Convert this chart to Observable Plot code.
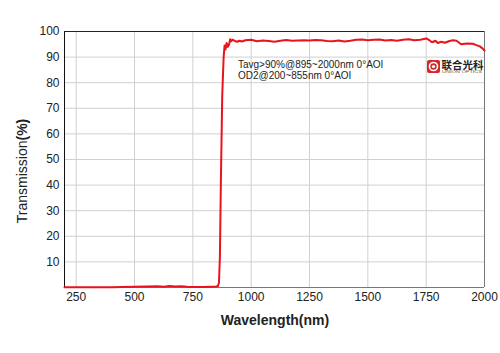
<!DOCTYPE html>
<html>
<head>
<meta charset="utf-8">
<script src="https://cdn.jsdelivr.net/npm/d3@7"></script>
<script src="https://cdn.jsdelivr.net/npm/@observablehq/plot@0.6"></script>
<style>
  html, body { margin: 0; padding: 0; background: #fff; }
  #chart { width: 500px; height: 353px; }
</style>
</head>
<body>
<div id="chart"></div>
<script>
const wavelength = [200,250,300,350,400,450,500,550,600,625,650,675,700,725,750,775,800,825,850,858,862,866,870,876,882,886,890,895,900,905,910,915,920,930,940,950,960,975,1000,1025,1050,1075,1100,1125,1150,1175,1200,1225,1250,1275,1300,1325,1350,1375,1400,1425,1450,1475,1500,1525,1550,1575,1600,1625,1650,1675,1700,1725,1750,1765,1775,1790,1800,1815,1830,1850,1865,1880,1900,1925,1950,1965,1980,1990,2000];
const transmission = [0.1,0.1,0.1,0.1,0.1,0.2,0.3,0.4,0.5,0.3,0.6,0.4,0.5,0.3,0.2,0.2,0.2,0.3,0.4,0.6,2,12,40,75,90,94.5,93,95.5,94.0,94.8,97.0,96.2,96.8,96.3,96.0,96.4,96.1,96.6,96.8,96.2,96.5,96.3,96.0,96.4,96.7,96.4,96.5,96.6,96.5,96.7,96.6,96.3,96.2,96.5,96.1,96.4,96.8,96.9,96.6,96.8,96.9,96.5,96.7,96.4,96.8,97.0,96.6,96.8,97.3,96.5,95.8,96.4,95.5,96.0,95.6,96.3,96.6,96.4,95.0,95.3,95.2,94.7,94.2,93.5,92.6];
const xTicks = [250,500,750,1000,1250,1500,1750,2000];
const yTicks = [10,20,30,40,50,60,70,80,90,100];
const noteLines = ["Tavg>90%@895~2000nm 0°AOI", "OD2@200~855nm 0°AOI"];
const xLabel = "Wavelength(nm)";
const yLabelMain = "Transmission";
const yLabelUnit = "(%)";
const logoText = "联合光科";
const logoSub = "UNION OPTICS";

const data = wavelength.map((w, i) => ({w, t: transmission[i]}));
const font = "'Liberation Sans', Arial, sans-serif";

const plot = Plot.plot({
  width: 500,
  height: 353,
  marginLeft: 64,
  marginRight: 16,
  marginTop: 31,
  marginBottom: 66,
  style: {fontFamily: font, fontSize: "12px", color: "#222", background: "#fff"},
  x: {domain: [200, 2000], label: null},
  y: {domain: [0, 100], label: null},
  marks: [
    Plot.gridX(xTicks.filter(d => d < 2000), {stroke: "#d0d0d0", strokeOpacity: 1}),
    Plot.gridY(yTicks.filter(d => d < 100), {stroke: "#d0d0d0", strokeOpacity: 1}),
    Plot.ruleX([2000], {stroke: "#777"}),
    Plot.ruleY([0], {stroke: "#777"}),
    Plot.ruleY([100], {stroke: "#222"}),
    Plot.ruleX([200], {stroke: "#111"}),
    Plot.line(data, {x: "w", y: "t", stroke: "#e8141b", strokeWidth: 2}),
    Plot.axisX({ticks: xTicks, tickFormat: d3.format("d"), tickSize: 0, tickPadding: 5, label: null, fontSize: 12}),
    Plot.axisY({ticks: yTicks, tickFormat: d3.format("d"), tickSize: 0, tickPadding: 5, label: null, fontSize: 12})
  ]
});

document.getElementById("chart").appendChild(plot);

const svg = d3.select(plot);
// annotation lines
noteLines.forEach((line, i) => {
  svg.append("text")
    .attr("x", 238).attr("y", 64 + i * 11.5)
    .attr("dy", "0.35em")
    .attr("text-anchor", "start")
    .attr("font-family", font).attr("font-size", 10)
    .attr("fill", "#222")
    .text(line);
});

// y label
const yl = svg.append("text")
  .attr("transform", "translate(27,171) rotate(-90)")
  .attr("text-anchor", "middle")
  .attr("font-family", font).attr("font-size", 14)
  .attr("fill", "#222");
yl.append("tspan").text(yLabelMain);
yl.append("tspan").attr("font-weight", "bold").text(yLabelUnit);

// x label
svg.append("text")
  .attr("x", 275).attr("y", 325)
  .attr("text-anchor", "middle")
  .attr("font-family", font).attr("font-size", 14).attr("font-weight", "bold")
  .attr("fill", "#222")
  .text(xLabel);

// logo
const logo = svg.append("g").attr("transform", "translate(427,60)").attr("text-anchor", "start");
logo.append("rect").attr("width", 13).attr("height", 13).attr("rx", 2).attr("fill", "#d7262c");
logo.append("circle").attr("cx", 6.5).attr("cy", 6.5).attr("r", 4).attr("fill", "none").attr("stroke", "#fff").attr("stroke-width", 1.6);
logo.append("circle").attr("cx", 6.5).attr("cy", 6.5).attr("r", 1.6).attr("fill", "#fff");
logo.append("text").attr("x", 14.5).attr("y", 5).attr("dy", "0.35em")
  .attr("font-family", "'Noto Sans CJK SC', sans-serif").attr("font-size", 10.5).attr("font-weight", "bold")
  .attr("fill", "#222").text(logoText);
logo.append("text").attr("x", 15).attr("y", 13)
  .attr("font-family", font).attr("font-size", 2.6).attr("fill", "#555")
  .attr("textLength", 40).attr("lengthAdjust", "spacingAndGlyphs").text(logoSub);
</script>
</body>
</html>
